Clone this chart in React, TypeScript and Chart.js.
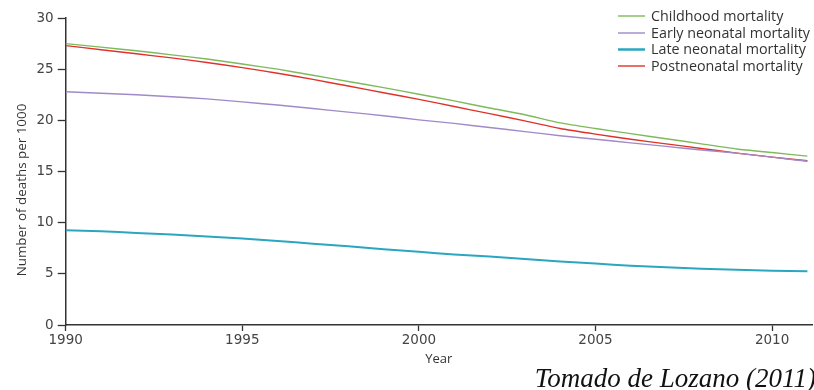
import React, { useEffect, useRef } from "react";
import { Chart, registerables } from "chart.js";

Chart.register(...registerables);

const years = [1990, 1991, 1992, 1993, 1994, 1995, 1996, 1997, 1998, 1999, 2000, 2001, 2002, 2003, 2004, 2005, 2006, 2007, 2008, 2009, 2010, 2011];
const childhood = [27.5, 27.15, 26.8, 26.4, 26.0, 25.5, 25.0, 24.4, 23.8, 23.2, 22.55, 21.9, 21.2, 20.55, 19.75, 19.2, 18.7, 18.2, 17.7, 17.2, 16.85, 16.5];
const earlyNeonatal = [22.8, 22.65, 22.5, 22.3, 22.1, 21.8, 21.5, 21.15, 20.8, 20.45, 20.05, 19.7, 19.3, 18.9, 18.5, 18.15, 17.8, 17.45, 17.1, 16.8, 16.4, 16.0];
const lateNeonatal = [9.25, 9.15, 9.0, 8.85, 8.65, 8.45, 8.2, 7.95, 7.7, 7.4, 7.15, 6.9, 6.7, 6.45, 6.2, 6.0, 5.8, 5.65, 5.5, 5.4, 5.3, 5.25];
const postneonatal = [27.3, 26.9, 26.5, 26.1, 25.65, 25.15, 24.6, 24.0, 23.35, 22.7, 22.05, 21.35, 20.65, 19.95, 19.2, 18.65, 18.15, 17.7, 17.25, 16.8, 16.4, 16.05];

const seriesNames = ["Childhood mortality", "Early neonatal mortality", "Late neonatal mortality", "Postneonatal mortality"];
const seriesColors = ["#7dba5c", "#a08ac8", "#2ba6c0", "#e0322b"];
const seriesWidths = [1.4, 1.4, 2, 1.4];
const seriesValues = [childhood, earlyNeonatal, lateNeonatal, postneonatal];

const xTicks = [1990, 1995, 2000, 2005, 2010];
const yTicks = [0, 5, 10, 15, 20, 25, 30];
const xTitle = "Year";
const yTitle = "Number of deaths per 1000";
const caption = "Tomado de Lozano (2011)";

const overlayPlugin = {
  id: "overlay",
  afterDraw(chart: any) {
    const ctx = chart.ctx;
    ctx.save();
    // legend
    ctx.font = "14.3px 'Open Sans'";
    ctx.textBaseline = "middle";
    ctx.textAlign = "left";
    const rowY = [16, 33, 49.5, 66];
    seriesNames.forEach((name, i) => {
      ctx.strokeStyle = seriesColors[i];
      ctx.lineWidth = seriesWidths[i] + (i === 2 ? 0.5 : 0);
      ctx.beginPath();
      ctx.moveTo(618, rowY[i]);
      ctx.lineTo(645, rowY[i]);
      ctx.stroke();
      ctx.fillStyle = "#333";
      ctx.fillText(name, 651, rowY[i] + 0.5);
    });
    // y title
    ctx.save();
    ctx.translate(22, 190);
    ctx.rotate(-Math.PI / 2);
    ctx.font = "13.4px 'Open Sans'";
    ctx.textAlign = "center";
    ctx.textBaseline = "middle";
    ctx.fillStyle = "#333";
    ctx.fillText(yTitle, 0, 0);
    ctx.restore();
    // caption
    ctx.font = "italic 27px 'Liberation Serif'";
    ctx.textAlign = "right";
    ctx.textBaseline = "alphabetic";
    ctx.fillStyle = "#111";
    ctx.fillText(caption, 816, 387);
    ctx.restore();
  },
};

export default function App() {
  const ref = useRef<HTMLCanvasElement>(null);
  useEffect(() => {
    document.body.style.margin = "0";
    const chart = new Chart(ref.current!, {
      type: "line",
      data: {
        datasets: seriesNames.map((name, i) => ({
          label: name,
          data: years.map((y, j) => ({ x: y, y: seriesValues[i][j] })),
          borderColor: seriesColors[i],
          backgroundColor: seriesColors[i],
          borderWidth: seriesWidths[i],
          pointRadius: 0,
          tension: 0.2,
          fill: false,
        })),
      },
      options: {
        animation: false,
        responsive: false,
        maintainAspectRatio: false,
        layout: { padding: { top: 18, right: 2, bottom: 20, left: 0 } },
        plugins: { legend: { display: false }, tooltip: { enabled: false } },
        scales: {
          x: {
            type: "linear",
            min: 1990,
            max: 2011.13,
            afterBuildTicks: (s: any) => {
              s.ticks = xTicks.map((v) => ({ value: v }));
            },
            afterFit: (s: any) => {
              s.height = 45;
            },
            grid: { drawOnChartArea: false, drawTicks: true, tickLength: 6, tickColor: "#333", tickWidth: 1.3 },
            border: { color: "#333", width: 1.5 },
            ticks: {
              padding: 1,
              color: "#444",
              font: { family: "'DejaVu Sans'", size: 13.5 },
              maxRotation: 0,
              callback: (v: any) => String(v),
            },
            title: {
              display: true,
              text: xTitle,
              color: "#333",
              font: { family: "'Open Sans'", size: 13 },
              padding: { top: 0, bottom: 2.7 },
            },
          },
          y: {
            min: 0,
            max: 30,
            afterBuildTicks: (s: any) => {
              s.ticks = yTicks.map((v) => ({ value: v }));
            },
            afterFit: (s: any) => {
              s.width = 65.7;
            },
            grid: { drawOnChartArea: false, drawTicks: true, tickLength: 8, tickColor: "#333", tickWidth: 1.3 },
            border: { color: "#333", width: 1.5 },
            ticks: {
              padding: 4,
              color: "#444",
              font: { family: "'DejaVu Sans'", size: 13.5 },
            },
          },
        },
      },
      plugins: [overlayPlugin],
    });
    return () => chart.destroy();
  }, []);
  return (
    <div style={{ position: "absolute", left: 0, top: 0, width: 814, height: 390, background: "#fff" }}>
      <canvas ref={ref} width={814} height={390} style={{ display: "block" }} />
    </div>
  );
}
